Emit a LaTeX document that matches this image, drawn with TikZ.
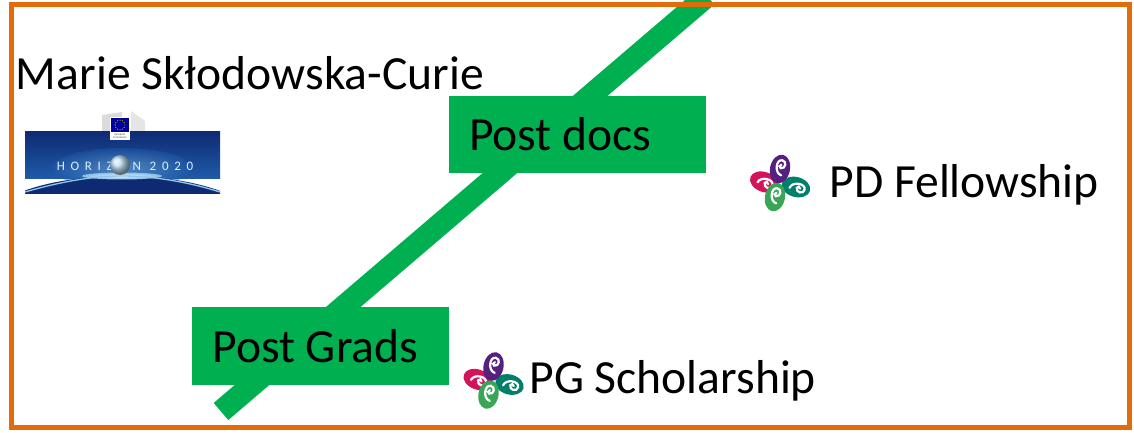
\documentclass[tikz,border=0pt]{standalone}
\usepackage{fontspec}
\setmainfont{Carlito}
\definecolor{bandgreen}{HTML}{00B050}
\definecolor{frameorange}{HTML}{E36C0A}
\definecolor{swPurple}{HTML}{55207F}
\definecolor{swPink}{HTML}{D4145A}
\definecolor{swTeal}{HTML}{00806A}
\definecolor{swGreen}{HTML}{3AA655}
\definecolor{navy}{HTML}{0E2A72}
\definecolor{midblue}{HTML}{1F5AA8}
\definecolor{glow}{HTML}{8FC8EE}
\tikzset{
  x=1pt,y=-1pt,
  greenbox/.style={fill=bandgreen,draw=none},
  label/.style={anchor=base west,inner sep=0pt,outer sep=0pt,text=black,font=\fontsize{47.6}{50}\selectfont},
  swirl/.pic={
    \foreach \cx/\cy/\ang/\col in {-16/-2/-20/swPink,16/3/-15/swTeal,-5/13/78/swGreen,0/-15/78/swPurple}{
      \begin{scope}[shift={(\cx,\cy)},rotate=\ang]
        \fill[\col] (0,0) ellipse [x radius=14.5,y radius=10];
        \draw[white,line width=2.2pt,line cap=round] (-6,2.5) .. controls (-5,-5) and (9,-6) .. (9,0.5) .. controls (9,5.5) and (1,5.5) .. (1,0.5) .. controls (1,-1.5) and (4,-1.5) .. (4.5,0.5);
      \end{scope}
    }
  }
}
\begin{document}
\begin{tikzpicture}
\useasboundingbox (0,0) rectangle (1134,433);
% diagonal band
\coordinate (bandlow) at (221,411.5);
\coordinate (bandhigh) at (707,-4);
\begin{scope}
\clip (0,0) rectangle (1134,433);
\draw[bandgreen,line width=22.5pt] (bandlow) -- (bandhigh);
\end{scope}
% frame
\draw[frameorange,line width=5pt] (11.5,5) rectangle (1129.5,427.5);
% green boxes
\node[greenbox,minimum width=257pt,minimum height=77pt,inner sep=0pt,anchor=north west] (postdocs) at (449,96) {};
\node[greenbox,minimum width=257pt,minimum height=78pt,inner sep=0pt,anchor=north west] (postgrads) at (192,307) {};
\node[label] (tdocs) at (469,150) {Post docs};
\node[label] (tgrads) at (212.5,362) {Post Grads};
% texts
\node[label] (mariecurie) at (16,90) {Marie Skłodowska-Curie};
\node[label] (pdf) at (829.5,197) {PD Fellowship};
\node[label] (pgs) at (529.5,393) {PG Scholarship};
% logos
\pic at (780,184) {swirl};
\pic at (493.5,381.5) {swirl};
% Horizon 2020 banner
\fill[gray!28] (102,115) -- (122,112) -- (122,131) -- (102,131) -- cycle;
\fill[gray!20] (131,111) -- (145,121) -- (145,131) -- (131,131) -- cycle;
\begin{scope}
\clip (25,131) rectangle (220,193);
\shade[top color=navy,bottom color=midblue] (25,131) rectangle (220,178);
\shade[inner color=glow,outer color=midblue,opacity=.45] (122,168) ellipse [x radius=70,y radius=20];
\fill[navy] (122,228) ellipse [x radius=140,y radius=52];
\shade[inner color=white,outer color=glow,opacity=.9] (122,176) ellipse [x radius=40,y radius=3.5];
\draw[glow,line width=1.3pt] (25,192) .. controls (70,179) and (100,176) .. (122,176) .. controls (150,176) and (185,181) .. (220,192);
\node[anchor=center,inner sep=0pt,text=white!85!cyan,font={\fontsize{13}{14}\selectfont\addfontfeature{LetterSpace=44}}] (horizon) at (125,166) {HORIZON 2020};
\shade[ball color=glow!60!white] (120,165) circle (10);
\end{scope}
\fill[white] (110,117) rectangle (130,140);
\fill[blue!60!black] (111,118) rectangle (129,132);
\foreach \a in {0,30,...,330}{\fill[yellow!85!orange] (120,125) ++(\a:4.8) circle (0.55);}
\node[inner sep=0pt,anchor=center,text=black!75,align=center,font={\fontsize{2.8}{3}\selectfont}] (ec) at (120,136) {European\\Commission};
\end{tikzpicture}
\end{document}
